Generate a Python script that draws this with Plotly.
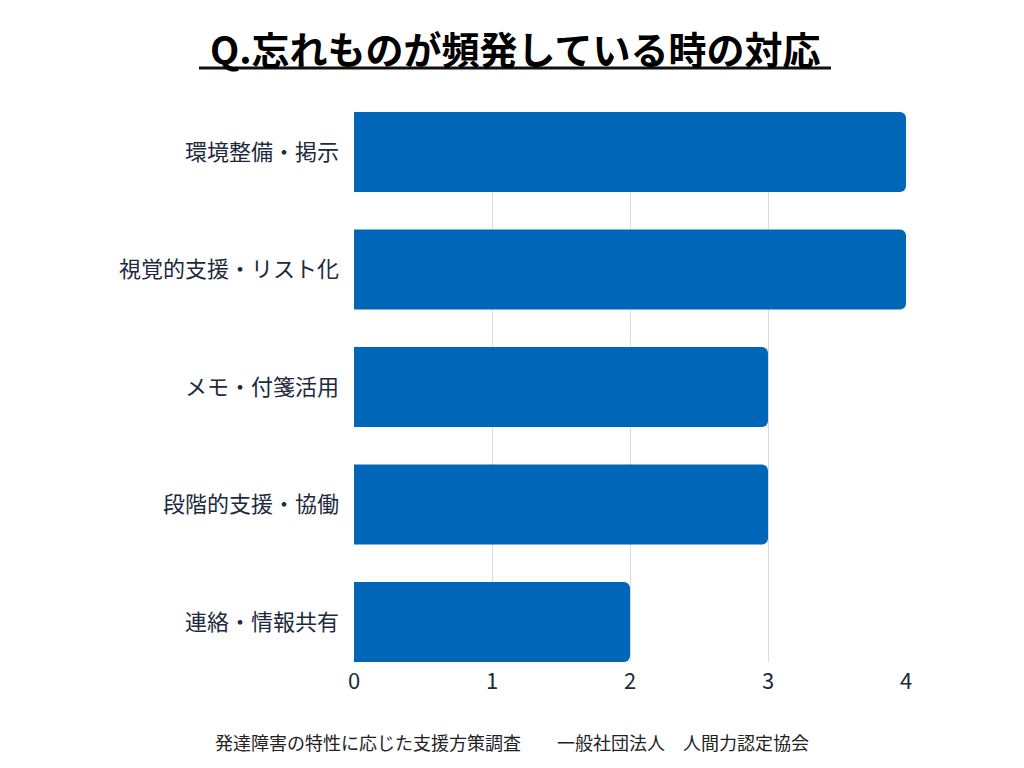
import plotly.graph_objects as go

categories = ["環境整備・掲示", "視覚的支援・リスト化", "メモ・付箋活用", "段階的支援・協働", "連絡・情報共有"]
values = [4, 4, 3, 3, 2]
x_ticks = [0, 1, 2, 3, 4]

title_text = "Q.忘れものが頻発している時の対応"
footer_text = "発達障害の特性に応じた支援方策調査　　一般社団法人　人間力認定協会"

FONT = "Noto Sans CJK JP"
BAR = "#0067b8"
DARK = "#1c2a3c"

# page has an 8px body margin; figure is sized so plot area lands at x 354-906, y 112-662
W, H = 1016, 760
ML, MR, MT, MB = 346, 118, 104, 106
OFF = 8

fig = go.Figure(go.Bar(
    y=categories, x=values, orientation="h",
    marker=dict(color=BAR, cornerradius=6, line=dict(width=0)),
    width=0.68,
))

plot_h = H - MT - MB
plot_w = W - ML - MR
def py(ypix):
    return (H - MB - (ypix - OFF)) / plot_h
def px(xpix):
    return ((xpix - OFF) - ML) / plot_w

fig.update_layout(
    width=W, height=H,
    paper_bgcolor="white", plot_bgcolor="white",
    margin=dict(l=ML, r=MR, t=MT, b=MB),
    showlegend=False,
    font=dict(family=FONT, color=DARK),
    xaxis=dict(range=[0, 4], tickvals=x_ticks, showgrid=True, gridcolor="#dcdcdc", gridwidth=1,
               zeroline=False, showline=False, ticks="", tickfont=dict(size=22, color=DARK, family=FONT),
               ticklabelstandoff=4),
    yaxis=dict(categoryorder="array", categoryarray=categories, autorange=False, range=[4.34, -0.34],
               showgrid=False, zeroline=False, showline=False, ticks="",
               tickfont=dict(size=22, color=DARK, family=FONT), ticklabelstandoff=14),
    annotations=[
        dict(text="<b>" + title_text + "</b>", x=px(515), y=py(48), xref="paper", yref="paper",
             xanchor="center", yanchor="middle", showarrow=False,
             font=dict(size=38, color="#000000", family=FONT)),
        dict(text=footer_text, x=px(512), y=py(742), xref="paper", yref="paper",
             xanchor="center", yanchor="middle", showarrow=False,
             font=dict(size=18, color="#222222", family=FONT)),
    ],
)

fig.add_shape(type="line", xref="paper", yref="paper",
              x0=px(199), x1=px(831), y0=py(68), y1=py(68),
              line=dict(color="#111111", width=3))

fig.write_html("out.html")
